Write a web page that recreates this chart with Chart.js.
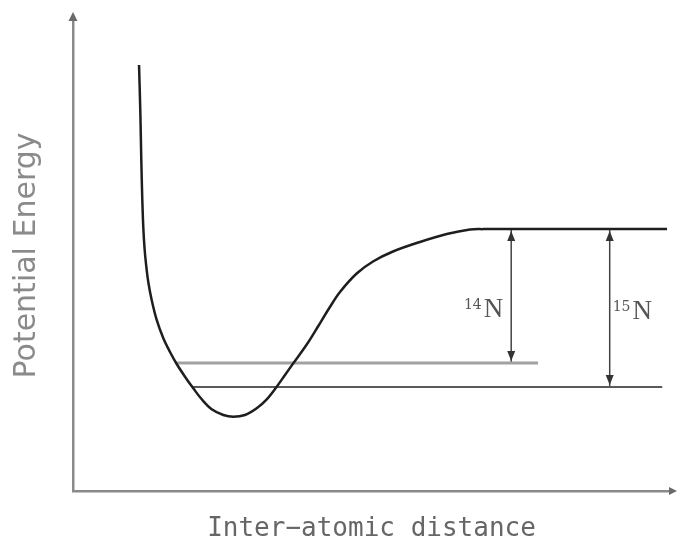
<!DOCTYPE html>
<html><head><meta charset="utf-8">
<script src="https://cdn.jsdelivr.net/npm/chart.js@4/dist/chart.umd.min.js"></script>
<style>html,body{margin:0;padding:0;background:#fff;} #wrap{width:677px;height:545px;}</style>
</head><body><div id="wrap"><canvas id="c" width="677" height="545"></canvas></div>
<script>
// Potential energy curve (arbitrary units)
const curveX = [11.06, 11.27, 11.44, 11.61, 11.78, 11.98, 12.23, 12.61, 13.18, 14.02, 15.13, 16.25, 17.37, 18.76, 20.15, 21.56, 23.23, 25.18, 26.85, 28.81, 30.77, 32.45, 34.12, 35.51, 36.90, 39.15, 41.04, 42.88, 44.72, 47.52, 50.25, 53.60, 58.12, 62.60, 66.50, 68.68, 76.55, 88.27, 99.50];
const curveY = [90.45, 80.89, 70.28, 61.78, 55.84, 51.59, 48.20, 44.37, 40.55, 36.31, 32.42, 29.51, 26.96, 24.27, 21.80, 19.47, 17.35, 16.14, 15.77, 16.14, 17.56, 19.47, 22.14, 24.63, 27.11, 31.10, 34.93, 38.75, 42.25, 46.18, 48.73, 50.85, 52.87, 54.56, 55.52, 55.6, 55.6, 55.6, 55.6];
// Zero-point levels of the two isotopes
const isotopes = ['14', '15'];
const element = 'N';
const levelY = [27.2, 22.1];
const levelXStart = [17.4, 19.9];
const levelXEnd = [77.9, 98.7];
const dissociationY = 55.6;
const arrowX = [73.4, 89.9];
const labelY = [36.9, 36.5];
const xTitle = 'Inter\u2212atomic distance';
const yTitle = 'Potential Energy';

const curvePts = curveX.map((x, i) => ({x, y: curveY[i]}));

function head(ctx, x, y, dx, dy, len, half) {
  const bx = x - dx * len, by = y - dy * len;
  ctx.beginPath();
  ctx.moveTo(x, y);
  ctx.lineTo(bx - dy * half, by + dx * half);
  ctx.lineTo(bx + dy * half, by - dx * half);
  ctx.closePath();
  ctx.fill();
}

const decor = {
  id: 'decor',
  afterDraw(chart) {
    const {ctx, chartArea, scales} = chart;
    const xs = scales.x, ys = scales.y;
    ctx.save();
    ctx.fillStyle = '#6a6a6a';
    head(ctx, chartArea.left, chartArea.top - 8, 0, -1, 9, 4.5);
    head(ctx, chartArea.right + 7, chartArea.bottom, 1, 0, 8, 4);
    ctx.fillStyle = '#333';
    arrowX.forEach((ax, i) => {
      const px = xs.getPixelForValue(ax);
      const top = ys.getPixelForValue(dissociationY) + 2;
      const bot = ys.getPixelForValue(levelY[i]) - 2;
      head(ctx, px, top, 0, -1, 10, 4);
      head(ctx, px, bot, 0, 1, 10, 4);
    });
    ctx.fillStyle = '#555';
    ctx.textBaseline = 'alphabetic';
    arrowX.forEach((ax, i) => {
      const px = xs.getPixelForValue(ax);
      const py = ys.getPixelForValue(labelY[i]);
      ctx.font = '14px "DejaVu Serif"';
      const wSup = ctx.measureText(isotopes[i]).width;
      ctx.font = '27px "Liberation Serif"';
      const wN = ctx.measureText(element).width;
      const x0 = i === 0 ? px - 8 - wSup - wN - 2 : px + 3;
      ctx.font = '14px "DejaVu Serif"';
      ctx.fillText(isotopes[i], x0, py - 8);
      ctx.font = '27px "Liberation Serif"';
      ctx.fillText(element, x0 + wSup + 2, py);
    });
    ctx.restore();
  }
};

new Chart(document.getElementById('c'), {
  type: 'scatter',
  data: {
    datasets: [
      {data: curvePts, showLine: true, borderColor: '#1e1e1e', borderWidth: 2.5, pointRadius: 0, tension: 0.35},
      {data: [{x: levelXStart[0], y: levelY[0]}, {x: levelXEnd[0], y: levelY[0]}], showLine: true, borderColor: '#a2a2a2', borderWidth: 3, pointRadius: 0},
      {data: [{x: levelXStart[1], y: levelY[1]}, {x: levelXEnd[1], y: levelY[1]}], showLine: true, borderColor: '#5a5a5a', borderWidth: 2, pointRadius: 0},
      {data: [{x: arrowX[0], y: dissociationY}, {x: arrowX[0], y: levelY[0]}], showLine: true, borderColor: '#444', borderWidth: 1.5, pointRadius: 0},
      {data: [{x: arrowX[1], y: dissociationY}, {x: arrowX[1], y: levelY[1]}], showLine: true, borderColor: '#444', borderWidth: 1.5, pointRadius: 0}
    ]
  },
  options: {
    responsive: false,
    animation: false,
    devicePixelRatio: 1,
    layout: {padding: {left: 0, right: 7, top: 20, bottom: 0}},
    plugins: {legend: {display: false}, tooltip: {enabled: false}},
    scales: {
      x: {
        type: 'linear', min: 0, max: 100,
        ticks: {display: false},
        grid: {display: false, drawTicks: false},
        border: {display: true, color: '#8a8a8a', width: 2.5},
        title: {display: true, text: xTitle, color: '#666', font: {family: '"DejaVu Sans Mono"', size: 26, lineHeight: 1.2}, padding: {top: 22.8, bottom: 0}}
      },
      y: {
        type: 'linear', min: 0, max: 100,
        ticks: {display: false},
        grid: {display: false, drawTicks: false},
        border: {display: true, color: '#8a8a8a', width: 2.5},
        title: {display: true, text: yTitle, color: '#8a8a8a', font: {family: '"DejaVu Sans"', size: 30, lineHeight: 1.2}, padding: {top: 9, bottom: 28}}
      }
    }
  },
  plugins: [decor]
});
</script>
</body></html>
